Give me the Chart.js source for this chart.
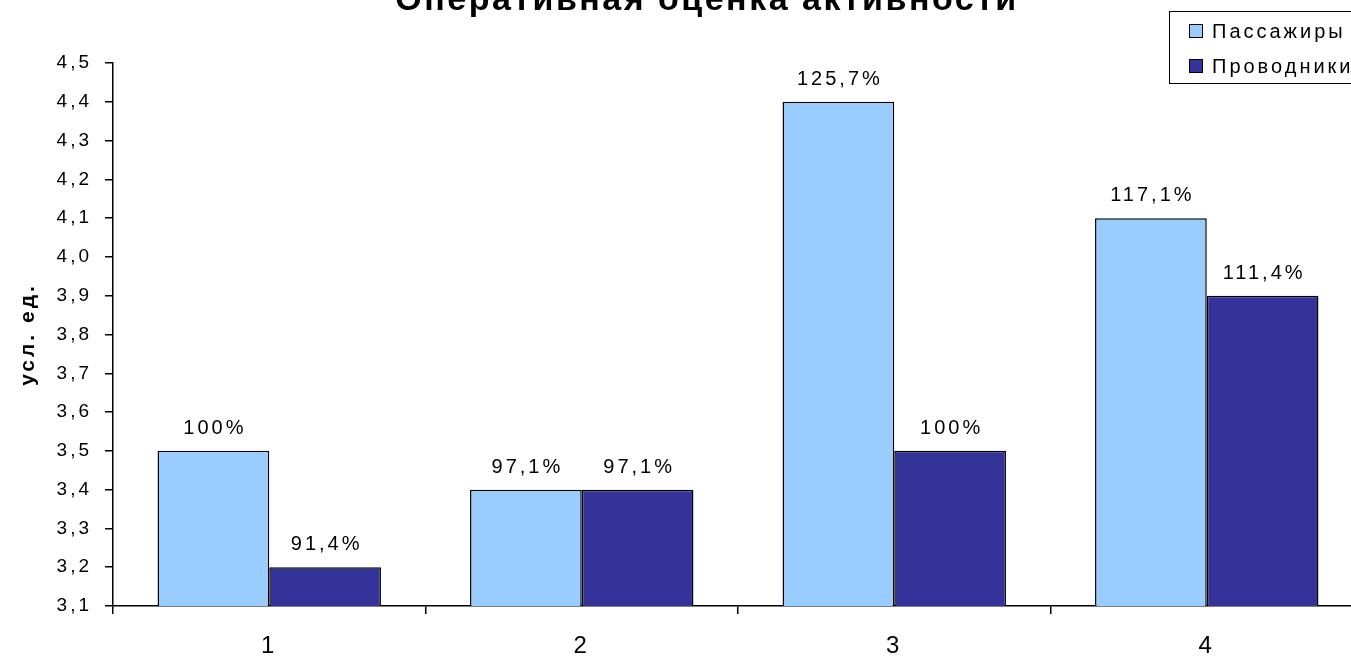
<!DOCTYPE html>
<html lang="ru">
<head>
  <meta charset="UTF-8" />
  <title>Оперативная оценка активности</title>
  <style>
    html, body {
      margin: 0;
      padding: 0;
      background: #fff;
      overflow: hidden;
    }
    #obertka {
      position: absolute;
      left: 0;
      top: 0;
      width: 1400px;
      height: 657px;
    }
  </style>
  <script src="https://cdn.jsdelivr.net/npm/chart.js"></script>
</head>
<body>
  <div id="obertka"><canvas id="grafik"></canvas></div>

  <script>
    // Данные
    const periody = ["1", "2", "3", "4"];
    const passazhiry = [3.5, 3.4, 4.4, 4.1];
    const provodniki = [3.2, 3.4, 3.5, 3.9];
    const yMin = 3.1;
    const yMax = 4.5;
    const yShag = 0.1;

    const zagolovok = "Оперативная оценка активности";
    const osY = "усл. ед.";
    const shrift = "'Liberation Sans', Arial, sans-serif";

    // проценты считаются от первого значения по пассажирам
    const baza = passazhiry[0];
    function procent(v) {
      const p = Math.round((v / baza) * 1000) / 10;
      return (Number.isInteger(p) ? String(p) : p.toFixed(1).replace(".", ",")) + "%";
    }
    const zapyataya = (v) => v.toFixed(1).replace(".", ",");

    // общий разряженный шрифт как в Excel
    const razryadka = {
      id: "razryadka",
      beforeDraw(chart) {
        chart.ctx.letterSpacing = "3px";
      },
    };

    // подписи над столбцами
    const podpisi = {
      id: "podpisi",
      afterDatasetsDraw(chart) {
        const ctx = chart.ctx;
        ctx.save();
        ctx.font = "20px " + shrift;
        ctx.fillStyle = "#000";
        ctx.textAlign = "center";
        ctx.textBaseline = "alphabetic";
        chart.data.datasets.forEach((ds, i) => {
          chart.getDatasetMeta(i).data.forEach((bar, j) => {
            ctx.fillText(procent(ds.data[j]), bar.x + 1.5, bar.y - 17);
          });
        });
        ctx.restore();
      },
    };

    // заголовок (центр по всей диаграмме, верх обрезан)
    const shapka = {
      id: "shapka",
      afterDraw(chart) {
        const ctx = chart.ctx;
        ctx.save();
        ctx.letterSpacing = "2.5px";
        ctx.font = "bold 34px " + shrift;
        ctx.fillStyle = "#000";
        ctx.textAlign = "center";
        ctx.textBaseline = "alphabetic";
        ctx.fillText(zagolovok, 707, 10);
        ctx.restore();
      },
    };

    // легенда в рамке справа сверху
    const legenda = {
      id: "legenda",
      afterDraw(chart) {
        const ctx = chart.ctx;
        ctx.save();
        ctx.strokeStyle = "#000";
        ctx.lineWidth = 1;
        ctx.fillStyle = "#fff";
        ctx.fillRect(1169, 11, 260, 72);
        ctx.strokeRect(1169.5, 11.5, 260, 72);
        ctx.font = "20px " + shrift;
        ctx.textBaseline = "alphabetic";
        chart.data.datasets.forEach((ds, i) => {
          const y = 24 + i * 35;
          ctx.fillStyle = ds.backgroundColor;
          ctx.fillRect(1189, y, 13, 13);
          ctx.strokeRect(1189.5, y + 0.5, 13, 13);
          ctx.fillStyle = "#000";
          ctx.fillText(ds.label, 1212, y + 14);
        });
        ctx.restore();
      },
    };

    new Chart(document.getElementById("grafik"), {
      type: "bar",
      data: {
        labels: periody,
        datasets: [
          {
            label: "Пассажиры",
            data: passazhiry,
            backgroundColor: "#99ccff",
            borderColor: "#000",
            borderWidth: 1.5,
          },
          {
            label: "Проводники",
            data: provodniki,
            backgroundColor: "#333399",
            borderColor: "#000",
            borderWidth: 1.5,
          },
        ],
      },
      options: {
        responsive: true,
        maintainAspectRatio: false,
        animation: false,
        layout: { padding: { top: 63, right: 37, left: 0, bottom: 0 } },
        datasets: {
          bar: { categoryPercentage: 0.715, barPercentage: 1 },
        },
        plugins: {
          legend: { display: false },
          title: { display: false },
          tooltip: { enabled: false },
        },
        scales: {
          x: {
            afterFit: (s) => { s.height = 51; },
            border: { color: "#000", width: 1.5 },
            grid: {
              offset: true,
              drawOnChartArea: false,
              drawTicks: true,
              tickLength: 8,
              color: "#000",
              lineWidth: 1.5,
            },
            ticks: {
              color: "#000",
              padding: 18,
              font: { family: shrift, size: 24 },
            },
          },
          y: {
            min: yMin,
            max: yMax,
            afterFit: (s) => { s.width = 113; },
            border: { color: "#000", width: 1.5 },
            grid: {
              drawOnChartArea: false,
              drawTicks: true,
              tickLength: 8,
              color: "#000",
              lineWidth: 1.5,
            },
            ticks: {
              stepSize: yShag,
              color: "#000",
              padding: 13,
              font: { family: shrift, size: 19 },
              callback: (v) => zapyataya(v),
            },
            title: {
              display: true,
              text: osY,
              color: "#000",
              padding: { top: 16, bottom: 0 },
              font: { family: shrift, size: 21, weight: "bold" },
            },
          },
        },
      },
      plugins: [razryadka, podpisi, shapka, legenda],
    });
  </script>
</body>
</html>
